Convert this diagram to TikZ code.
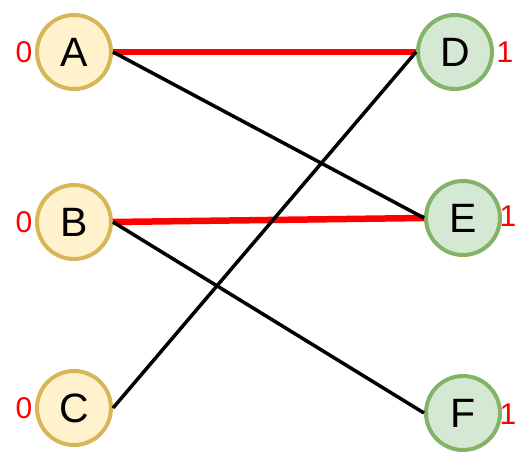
\documentclass[tikz,border=0pt]{standalone}
\usepackage{fontspec}
\setmainfont{Liberation Sans}
\definecolor{yfill}{HTML}{FFF2CC}
\definecolor{ydraw}{HTML}{D6B656}
\definecolor{gfill}{HTML}{D5E8D4}
\definecolor{gdraw}{HTML}{82B366}
\definecolor{myred}{HTML}{FF0000}
\begin{document}
\begin{tikzpicture}[x=1pt,y=1pt,
  vnode/.style={circle,minimum size=74pt,inner sep=0pt,line width=4pt,font=\fontsize{41}{41}\selectfont},
  leftnode/.style={vnode,fill=yfill,draw=ydraw},
  rightnode/.style={vnode,fill=gfill,draw=gdraw},
  lbl/.style={text=myred,font=\fontsize{30}{30}\selectfont,inner sep=0pt},
  matched/.style={draw=myred,line width=6.5pt},
  plain/.style={draw=black,line width=3.5pt}]
\useasboundingbox (0,0) rectangle (532,466);
\node[leftnode] (A) at (74,414) {A};
\node[leftnode] (B) at (74,244) {B};
\node[leftnode] (C) at (74,58) {C};
\node[rightnode] (D) at (455,414) {D};
\node[rightnode] (E) at (463,248) {E};
\node[rightnode] (F) at (463,53) {F};
\node[lbl] (la) at (24,414) {0};
\node[lbl] (lb) at (24,244) {0};
\node[lbl] (lc) at (24,58) {0};
\node[lbl] (ld) at (505,414) {1};
\node[lbl] (le) at (508,250) {1};
\node[lbl] (lf) at (508,52) {1};
\path[matched] (A.east) -- (D.west);
\path[matched] (B.east) -- (E.west);
\path[plain] (A.east) -- (E.west);
\path[plain] (B.east) -- (F.west);
\path[plain] (C.east) -- (D.west);
\end{tikzpicture}
\end{document}
